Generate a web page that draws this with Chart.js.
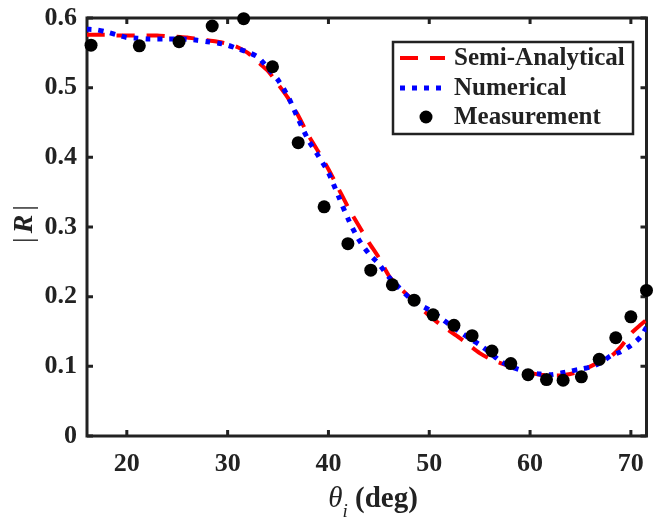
<!DOCTYPE html>
<html>
<head>
<meta charset="utf-8">
<script src="https://cdn.jsdelivr.net/npm/chart.js@4.4.0/dist/chart.umd.min.js"></script>
<style>
  html, body { margin: 0; padding: 0; background: #fff; }
  #wrap { width: 653px; height: 520px; position: relative; }
</style>
</head>
<body>
<div id="wrap"><canvas id="chart" width="653" height="520"></canvas></div>
<script>
// incidence angle grid for the two model curves (deg)
const curveTheta = [16, 17, 18, 19, 20, 21, 22, 23, 24, 25, 26, 27, 28, 29, 30, 31, 32, 33, 34, 35,
  36, 37, 38, 39, 40, 41, 42, 43, 44, 45, 46, 47, 48, 49, 50, 51, 52, 53, 54, 55,
  56, 57, 58, 59, 60, 61, 62, 63, 64, 65, 66, 67, 68, 69, 70, 71, 72];
const semiAnalytical = [0.576, 0.576, 0.576, 0.575, 0.575, 0.575, 0.575, 0.575, 0.574, 0.573,
  0.572, 0.570, 0.568, 0.566, 0.563, 0.558, 0.550, 0.537, 0.524, 0.505,
  0.485, 0.460, 0.432, 0.408, 0.383, 0.355, 0.327, 0.302, 0.278, 0.256,
  0.230, 0.214, 0.200, 0.185, 0.173, 0.161, 0.151, 0.141, 0.130, 0.119,
  0.111, 0.105, 0.100, 0.096, 0.091, 0.088, 0.087, 0.087, 0.089, 0.093,
  0.100, 0.107, 0.114, 0.128, 0.147, 0.160, 0.172];
const numerical = [0.584, 0.583, 0.580, 0.576, 0.572, 0.571, 0.570, 0.570, 0.570, 0.570,
  0.5695, 0.568, 0.566, 0.564, 0.561, 0.556, 0.551, 0.544, 0.528, 0.511,
  0.487, 0.455, 0.425, 0.402, 0.378, 0.344, 0.310, 0.282, 0.262, 0.247,
  0.228, 0.213, 0.199, 0.189, 0.181, 0.171, 0.160, 0.150, 0.140, 0.131,
  0.120, 0.108, 0.100, 0.095, 0.091, 0.089, 0.088, 0.090, 0.093, 0.096,
  0.099, 0.105, 0.115, 0.121, 0.130, 0.143, 0.168];

// measured points
const measTheta = [16.45, 21.24, 25.18, 28.47, 31.59, 34.45, 37.0, 39.57, 41.93, 44.2,
  46.34, 48.5, 50.38, 52.45, 54.25, 56.22, 58.09, 59.8, 61.63, 63.28,
  65.09, 66.86, 68.5, 70.0, 71.55];
const measR = [0.561, 0.560, 0.566, 0.5885, 0.599, 0.530, 0.421, 0.329, 0.276, 0.238,
  0.217, 0.195, 0.174, 0.159, 0.144, 0.122, 0.104, 0.088, 0.081, 0.080,
  0.085, 0.110, 0.141, 0.171, 0.209];

const xTicks = [20, 30, 40, 50, 60, 70];
const yTicks = [0, 0.1, 0.2, 0.3, 0.4, 0.5, 0.6];
const labels = ['Semi-Analytical', 'Numerical', 'Measurement'];

const SERIF = '"Liberation Serif", "Times New Roman", serif';
const INK = '#222';

const pts = (xs, ys) => xs.map((x, i) => ({ x: x, y: ys[i] }));

// box, inward ticks, axis titles and legend, the way the MATLAB figure looks
const decor = {
  id: 'decor',
  beforeDatasetsDraw(chart) {
    const { ctx, chartArea: a, scales } = chart;
    ctx.save();
    ctx.strokeStyle = INK;
    ctx.lineWidth = 3;
    ctx.strokeRect(a.left, a.top, a.right - a.left, a.bottom - a.top);
    ctx.beginPath();
    xTicks.forEach(v => {
      const px = scales.x.getPixelForValue(v);
      ctx.moveTo(px, a.bottom); ctx.lineTo(px, a.bottom - 6);
      ctx.moveTo(px, a.top); ctx.lineTo(px, a.top + 6);
    });
    yTicks.forEach(v => {
      const py = scales.y.getPixelForValue(v);
      ctx.moveTo(a.left, py); ctx.lineTo(a.left + 6, py);
      ctx.moveTo(a.right, py); ctx.lineTo(a.right - 6, py);
    });
    ctx.stroke();
    ctx.restore();
  },
  afterDraw(chart) {
    const { ctx, chartArea: a } = chart;
    ctx.save();
    ctx.fillStyle = INK;
    ctx.textBaseline = 'alphabetic';

    // x title: theta_i (deg)
    const cx = 373;
    ctx.font = 'italic 29px ' + SERIF;
    const wTh = ctx.measureText('\u03B8').width;
    ctx.font = 'italic 19px ' + SERIF;
    const wI = ctx.measureText('i').width;
    ctx.font = 'bold 29px ' + SERIF;
    const wDeg = ctx.measureText(' (deg)').width;
    let x0 = cx - (wTh + wI + wDeg) / 2;
    const base = 507;
    ctx.font = 'italic 29px ' + SERIF;
    ctx.fillText('\u03B8', x0, base);
    ctx.font = 'italic 19px ' + SERIF;
    ctx.fillText('i', x0 + wTh, base + 10);
    ctx.font = 'bold 29px ' + SERIF;
    ctx.fillText(' (deg)', x0 + wTh + wI, base);

    // y title: |R|
    ctx.translate(32, (a.top + a.bottom) / 2 - 3);
    ctx.rotate(-Math.PI / 2);
    ctx.textAlign = 'left';
    ctx.font = '28px ' + SERIF;
    const wBar = ctx.measureText('|').width;
    ctx.font = 'bold italic 28px ' + SERIF;
    const wR = ctx.measureText('R').width;
    const wAll = wBar * 2 + wR + 8;
    let yx = -wAll / 2;
    ctx.font = '28px ' + SERIF;
    ctx.fillText('|', yx, 0);
    ctx.font = 'bold italic 28px ' + SERIF;
    ctx.fillText('R', yx + wBar + 4, 0);
    ctx.font = '28px ' + SERIF;
    ctx.fillText('|', yx + wBar + wR + 8, 0);
    ctx.restore();

    // legend
    const L = { left: 393, top: 42, right: 633, bottom: 134 };
    ctx.save();
    ctx.fillStyle = '#fff';
    ctx.fillRect(L.left, L.top, L.right - L.left, L.bottom - L.top);
    ctx.strokeStyle = INK;
    ctx.lineWidth = 2.5;
    ctx.strokeRect(L.left, L.top, L.right - L.left, L.bottom - L.top);
    const rows = [58, 88, 117];
    chart.data.datasets.forEach((ds, i) => {
      const y = rows[i];
      ctx.save();
      if (ds.showLine) {
        ctx.strokeStyle = ds.borderColor;
        ctx.lineWidth = ds.borderWidth;
        ctx.setLineDash(ds.borderDash);
        ctx.beginPath();
        ctx.moveTo(400, y); ctx.lineTo(445, y);
        ctx.stroke();
      } else {
        ctx.fillStyle = ds.backgroundColor;
        ctx.beginPath();
        ctx.arc(426, y, ds.pointRadius, 0, Math.PI * 2);
        ctx.fill();
      }
      ctx.restore();
      ctx.fillStyle = INK;
      ctx.font = 'bold 25px ' + SERIF;
      ctx.textBaseline = 'middle';
      ctx.fillText(ds.label, 454, y + 1);
    });
    ctx.restore();
  }
};

new Chart(document.getElementById('chart'), {
  type: 'scatter',
  data: {
    datasets: [
      {
        label: labels[0],
        data: pts(curveTheta, semiAnalytical),
        showLine: true,
        borderColor: '#ff0000',
        borderWidth: 4,
        borderDash: [18, 12],
        pointRadius: 0,
        tension: 0.25,
        order: 3
      },
      {
        label: labels[1],
        data: pts(curveTheta, numerical),
        showLine: true,
        borderColor: '#0000ff',
        borderWidth: 5,
        borderDash: [5, 7],
        pointRadius: 0,
        tension: 0.25,
        order: 2
      },
      {
        label: labels[2],
        data: pts(measTheta, measR),
        showLine: false,
        backgroundColor: '#000',
        borderColor: '#000',
        pointRadius: 6.5,
        pointBorderWidth: 0,
        clip: false,
        order: 1
      }
    ]
  },
  options: {
    responsive: false,
    animation: false,
    layout: { padding: { top: 18, right: 3, left: 0, bottom: 0 } },
    plugins: { legend: { display: false }, tooltip: { enabled: false } },
    scales: {
      x: {
        type: 'linear',
        min: 16.05,
        max: 71.55,
        grid: { display: false, drawTicks: false },
        border: { display: false },
        afterBuildTicks: s => { s.ticks = xTicks.map(v => ({ value: v })); },
        afterFit: s => { s.height = 84; s.paddingLeft = 0; s.paddingRight = 0; },
        ticks: {
          padding: 13,
          color: INK,
          font: { family: SERIF, size: 26, weight: 'bold' }
        }
      },
      y: {
        type: 'linear',
        min: 0,
        max: 0.6,
        grid: { display: false, drawTicks: false },
        border: { display: false },
        afterBuildTicks: s => { s.ticks = yTicks.map(v => ({ value: v })); },
        afterFit: s => { s.width = 87; s.paddingTop = 0; s.paddingBottom = 0; },
        ticks: {
          padding: 10,
          color: INK,
          font: { family: SERIF, size: 26, weight: 'bold' },
          callback: v => (v === 0 ? '0' : v.toFixed(1))
        }
      }
    }
  },
  plugins: [decor]
});
</script>
</body>
</html>
